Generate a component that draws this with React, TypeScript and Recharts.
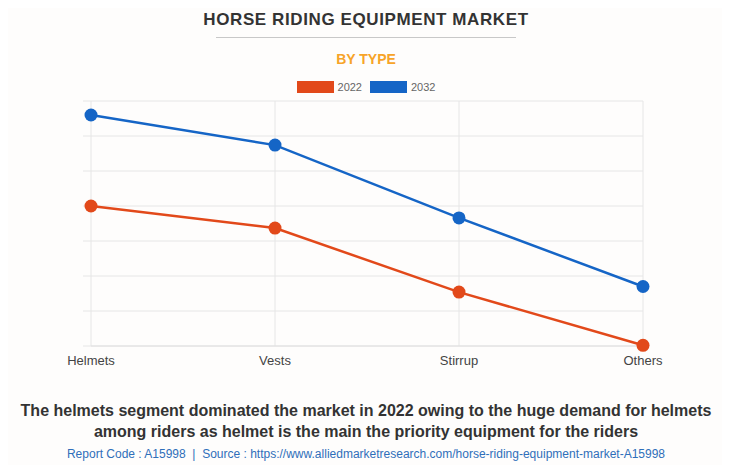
import { LineChart, Line, XAxis, YAxis, CartesianGrid } from 'recharts';

// values (units = gridline steps)
const categories = ['Helmets', 'Vests', 'Stirrup', 'Others'];
const values2022 = [4.0, 3.37, 1.54, 0.02];
const values2032 = [6.6, 5.74, 3.66, 1.7];
const yTicks = [0, 1, 2, 3, 4, 5, 6, 7];

const ORANGE = '#e2491a';
const BLUE = '#1565c6';

const series = [
  { key: 'y2022', label: '2022', color: ORANGE },
  { key: 'y2032', label: '2032', color: BLUE },
];

const data = categories.map((name, i) => ({
  name,
  y2022: values2022[i],
  y2032: values2032[i],
}));

const App = () => {
  return (
    <div
      style={{
        position: 'relative',
        width: 730,
        height: 473,
        margin: -8,
        background: '#fefdfc',
        boxSizing: 'border-box',
        border: '1px solid #e2e2e2',
        fontFamily: 'Liberation Sans, Arial, sans-serif',
        overflow: 'hidden',
      }}
    >
      <div
        style={{
          position: 'absolute',
          top: 9,
          left: 0,
          width: 730,
          textAlign: 'center',
          fontSize: 17,
          fontWeight: 'bold',
          letterSpacing: 0.6,
          color: '#333',
        }}
      >
        HORSE RIDING EQUIPMENT MARKET
      </div>
      <div style={{ position: 'absolute', top: 36, left: 215, width: 300, height: 1, background: '#c8c8c8' }} />
      <div
        style={{
          position: 'absolute',
          top: 50,
          left: 0,
          width: 730,
          textAlign: 'center',
          fontSize: 14,
          fontWeight: 'bold',
          color: '#f7a428',
        }}
      >
        BY TYPE
      </div>

      {/* legend */}
      <div
        style={{
          position: 'absolute',
          top: 80,
          left: 0,
          width: 730,
          display: 'flex',
          justifyContent: 'center',
          gap: 8,
        }}
      >
        {series.map((s) => (
          <div key={s.key} style={{ display: 'flex', alignItems: 'center' }}>
            <span
              style={{ display: 'inline-block', width: 37, height: 12, background: s.color, marginRight: 4 }}
            />
            <span style={{ fontSize: 11, color: '#666' }}>{s.label}</span>
          </div>
        ))}
      </div>

      <div style={{ position: 'absolute', top: -1, left: -1 }}>
        <LineChart
          width={730}
          height={473}
          data={data}
          margin={{ top: 101, right: 87, left: 83, bottom: 97 }}
        >
          <CartesianGrid stroke="#e6e6e6" strokeWidth={1} />
          <XAxis
            dataKey="name"
            height={30}
            axisLine={{ stroke: '#e0e0e0' }}
            tickLine={false}
            tick={{ fontSize: 13, fill: '#444', fontFamily: 'Liberation Sans, Arial, sans-serif' }}
            tickMargin={4}
            interval={0}
          />
          <YAxis
            width={8}
            domain={[0, 7]}
            ticks={yTicks}
            axisLine={false}
            tickSize={8}
            tickLine={{ stroke: '#e6e6e6' }}
            tickFormatter={() => ''}
          />
          {series.map((s) => (
            <Line
              key={s.key}
              type="linear"
              dataKey={s.key}
              name={s.label}
              stroke={s.color}
              strokeWidth={2.5}
              dot={{ r: 6.5, fill: s.color, stroke: s.color, strokeWidth: 0 }}
              isAnimationActive={false}
            />
          ))}
        </LineChart>
      </div>

      <div
        style={{
          position: 'absolute',
          top: 399,
          left: 0,
          width: 730,
          textAlign: 'center',
          fontSize: 16,
          fontWeight: 'bold',
          color: '#333',
          lineHeight: '21px',
        }}
      >
        The helmets segment dominated the market in 2022 owing to the huge demand for helmets
        <br />
        among riders as helmet is the main the priority equipment for the riders
      </div>
      <div
        style={{
          position: 'absolute',
          top: 446,
          left: 0,
          width: 730,
          textAlign: 'center',
          fontSize: 12,
          color: '#2f6fba',
        }}
      >
        Report Code : A15998&nbsp; |&nbsp; Source : https://www.alliedmarketresearch.com/horse-riding-equipment-market-A15998
      </div>
    </div>
  );
};

export default App;
